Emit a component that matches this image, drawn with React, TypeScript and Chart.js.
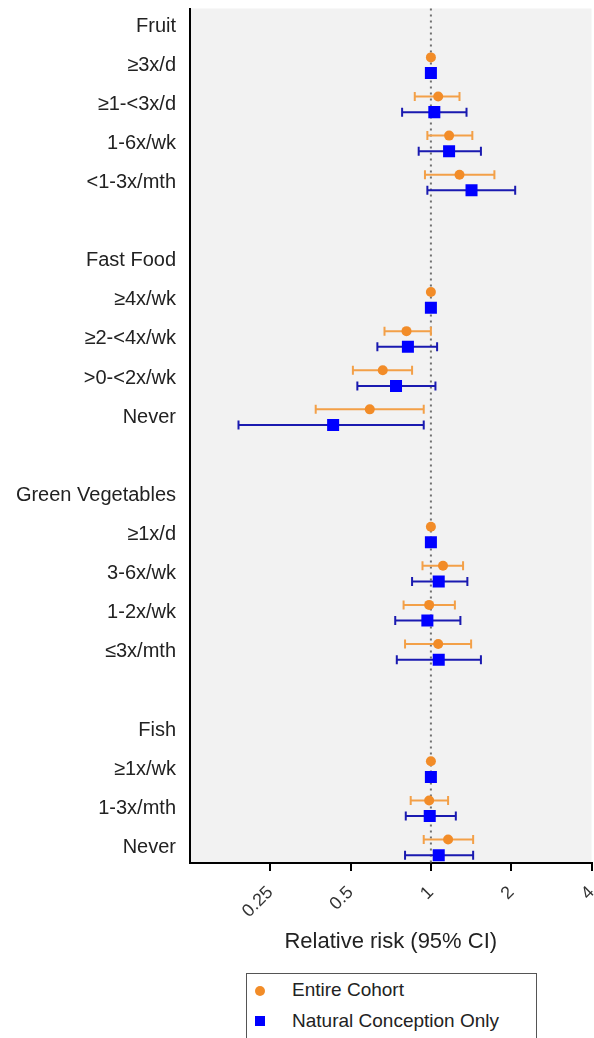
import React, { useEffect, useRef } from "react";
import { Chart, registerables } from "chart.js";

Chart.register(...registerables);

const FONT = "'Liberation Sans', Arial, Helvetica, sans-serif";

const groups = ["Fruit", "Fast Food", "Green Vegetables", "Fish"];
const levels = [
  ["≥3x/d", "≥1-<3x/d", "1-6x/wk", "<1-3x/mth"],
  ["≥4x/wk", "≥2-<4x/wk", ">0-<2x/wk", "Never"],
  ["≥1x/d", "3-6x/wk", "1-2x/wk", "≤3x/mth"],
  ["≥1x/wk", "1-3x/mth", "Never"],
];

// Entire cohort: relative risk and 95% CI
const cohortRR = [
  [1, 1.065, 1.17, 1.28],
  [1, 0.81, 0.66, 0.59],
  [1, 1.11, 0.985, 1.065],
  [1, 0.985, 1.16],
];
const cohortLo = [
  [null, 0.87, 0.97, 0.95],
  [null, 0.67, 0.51, 0.37],
  [null, 0.93, 0.79, 0.8],
  [null, 0.84, 0.94],
];
const cohortHi = [
  [null, 1.28, 1.43, 1.73],
  [null, 1.0, 0.85, 0.94],
  [null, 1.32, 1.23, 1.415],
  [null, 1.16, 1.44],
];

// Natural conception only: relative risk and 95% CI
const naturalRR = [
  [1, 1.03, 1.17, 1.42],
  [1, 0.82, 0.74, 0.43],
  [1, 1.07, 0.97, 1.07],
  [1, 0.99, 1.07],
];
const naturalLo = [
  [null, 0.78, 0.9, 0.97],
  [null, 0.63, 0.53, 0.19],
  [null, 0.85, 0.735, 0.745],
  [null, 0.805, 0.8],
];
const naturalHi = [
  [null, 1.36, 1.54, 2.07],
  [null, 1.055, 1.04, 0.94],
  [null, 1.37, 1.29, 1.54],
  [null, 1.24, 1.44],
];

const xTicks = [0.25, 0.5, 1, 2, 4];
const seriesNames = ["Entire Cohort", "Natural Conception Only"];

const ORANGE = "#F28C28";
const ORANGE_BAR = "#F3A048";
const BLUE = "#0000FF";
const BLUE_BAR = "#1A1AB0";

const rowLabels: string[] = [];
const cohortPts: any[] = [];
const naturalPts: any[] = [];
groups.forEach((g, gi) => {
  if (gi > 0) rowLabels.push("");
  rowLabels.push(g);
  levels[gi].forEach((lv, li) => {
    const row = rowLabels.length;
    rowLabels.push(lv);
    cohortPts.push({ x: cohortRR[gi][li], y: row - 0.2, lo: cohortLo[gi][li], hi: cohortHi[gi][li] });
    naturalPts.push({ x: naturalRR[gi][li], y: row + 0.2, lo: naturalLo[gi][li], hi: naturalHi[gi][li] });
  });
});

const forestPlugin = {
  id: "forest",
  beforeDraw(chart: any) {
    const { ctx, chartArea } = chart;
    ctx.save();
    ctx.fillStyle = "#F2F2F2";
    ctx.fillRect(chartArea.left, chartArea.top, chartArea.right - chartArea.left, chartArea.bottom - chartArea.top);
    ctx.restore();
  },
  beforeDatasetsDraw(chart: any) {
    const { ctx, chartArea } = chart;
    const x = chart.scales.x;
    const y = chart.scales.y;
    ctx.save();
    const px = x.getPixelForValue(1);
    ctx.strokeStyle = "#707070";
    ctx.lineWidth = 2;
    ctx.setLineDash([2, 4]);
    ctx.beginPath();
    ctx.moveTo(px, chartArea.top);
    ctx.lineTo(px, chartArea.bottom);
    ctx.stroke();
    ctx.setLineDash([]);
    chart.data.datasets.forEach((ds: any) => {
      ctx.strokeStyle = ds.barColor;
      ctx.lineWidth = 2;
      ds.data.forEach((p: any) => {
        if (p.lo == null || p.hi == null) return;
        const yp = y.getPixelForValue(p.y);
        const x1 = x.getPixelForValue(p.lo);
        const x2 = x.getPixelForValue(p.hi);
        ctx.beginPath();
        ctx.moveTo(x1, yp);
        ctx.lineTo(x2, yp);
        ctx.moveTo(x1, yp - 4.5);
        ctx.lineTo(x1, yp + 4.5);
        ctx.moveTo(x2, yp - 4.5);
        ctx.lineTo(x2, yp + 4.5);
        ctx.stroke();
      });
    });
    ctx.restore();
  },
};

export default function App() {
  const ref = useRef<HTMLCanvasElement>(null);
  useEffect(() => {
    if (!ref.current) return;
    const chart = new Chart(ref.current, {
      type: "scatter",
      data: {
        datasets: [
          {
            label: seriesNames[0],
            data: cohortPts,
            pointStyle: "circle",
            pointRadius: 5,
            backgroundColor: ORANGE,
            borderColor: ORANGE,
            borderWidth: 0,
            barColor: ORANGE_BAR,
          } as any,
          {
            label: seriesNames[1],
            data: naturalPts,
            pointStyle: "rect",
            pointRadius: 8.5,
            backgroundColor: BLUE,
            borderColor: BLUE,
            borderWidth: 0,
            barColor: BLUE_BAR,
          } as any,
        ],
      },
      options: {
        animation: false,
        responsive: false,
        maintainAspectRatio: false,
        layout: { padding: { top: 6, right: 4, left: 0, bottom: 0 } },
        plugins: { legend: { display: false }, tooltip: { enabled: false } },
        scales: {
          x: {
            type: "logarithmic",
            position: "bottom",
            min: 0.125,
            max: 4,
            afterBuildTicks: (s: any) => {
              s.ticks = xTicks.map((v) => ({ value: v }));
            },
            afterFit: (s: any) => {
              s.height = 107;
              s.paddingLeft = 0;
              s.paddingRight = 0;
            },
            ticks: {
              autoSkip: false,
              minRotation: 45,
              maxRotation: 45,
              padding: 11,
              color: "#333",
              font: { size: 18, family: FONT },
              callback: (v: any) => String(v),
            },
            grid: { display: true, drawOnChartArea: false, drawTicks: true, tickLength: 8, color: "#000", lineWidth: 2 },
            border: { display: true, color: "#000", width: 2 },
            title: {
              display: true,
              text: "Relative risk (95% CI)",
              color: "#222",
              font: { size: 22, family: FONT },
              padding: { top: 4, bottom: 15 },
            },
          },
          y: {
            type: "linear",
            reverse: true,
            min: -0.45,
            max: rowLabels.length - 0.6,
            afterBuildTicks: (s: any) => {
              s.ticks = rowLabels.map((_, i) => ({ value: i }));
            },
            afterFit: (s: any) => {
              s.width = 190;
              s.paddingTop = 0;
              s.paddingBottom = 0;
            },
            ticks: {
              autoSkip: false,
              padding: 14,
              color: "#222",
              font: { size: 20, family: FONT },
              callback: (v: any) => rowLabels[v] ?? "",
            },
            grid: { display: false, drawTicks: false },
            border: { display: true, color: "#000", width: 2 },
          },
        },
      } as any,
      plugins: [forestPlugin],
    });
    return () => chart.destroy();
  }, []);

  return (
    <div style={{ position: "absolute", left: 0, top: 0, width: 594, height: 1038, overflow: "hidden", background: "#fff" }}>
      <canvas ref={ref} width={600} height={970} style={{ display: "block", width: 600, height: 970 }} />
      <div
        style={{
          position: "absolute",
          left: 246,
          top: 973,
          width: 289,
          height: 90,
          border: "1px solid #555",
          background: "#fff",
          fontFamily: FONT,
          fontSize: 19,
          color: "#222",
        }}
      >
        <div style={{ position: "absolute", left: 8, top: 12, width: 10, height: 10, borderRadius: "50%", background: ORANGE }} />
        <span style={{ position: "absolute", left: 45, top: 5, lineHeight: "22px", whiteSpace: "nowrap" }}>{seriesNames[0]}</span>
        <div style={{ position: "absolute", left: 8, top: 42, width: 10, height: 10, background: BLUE }} />
        <span style={{ position: "absolute", left: 45, top: 36, lineHeight: "22px", whiteSpace: "nowrap" }}>{seriesNames[1]}</span>
      </div>
    </div>
  );
}
